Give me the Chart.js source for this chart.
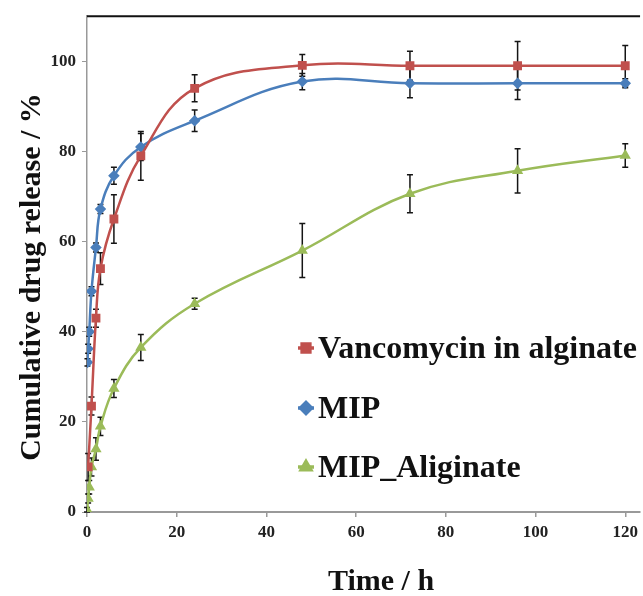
<!DOCTYPE html>
<html><head><meta charset="utf-8">
<script src="https://cdn.jsdelivr.net/npm/chart.js@4.4.1/dist/chart.umd.min.js"></script>
<style>html,body{margin:0;padding:0;background:#fff;}#wrap{width:643px;height:596px;position:relative;}</style>
</head><body><div id="wrap"><canvas id="c" width="643" height="596"></canvas></div>
<script>
const xTitle = 'Time / h';
const yTitle = 'Cumulative drug release / %';
const xTicks = [0, 20, 40, 60, 80, 100, 120];
const yTicks = [0, 20, 40, 60, 80, 100];
const seriesNames = ['Vancomycin in alginate', 'MIP', 'MIP_Aliginate'];

const vancoTime = [0.25, 1, 2, 3, 6, 12, 24, 48, 72, 96, 120];
const vancoRelease = [10, 23.5, 43, 54, 65, 79, 94, 99.1, 99, 99, 99];
const vancoErr = [3, 2, 2, 3.5, 5.4, 5.4, 3, 2.4, 3.2, 5.4, 4.5];

const mipTime = [0.1, 0.25, 0.5, 1, 2, 3, 6, 12, 24, 48, 72, 96, 120];
const mipRelease = [33.2, 36.2, 40, 49, 58.7, 67.2, 74.6, 81, 86.8, 95.5, 95.1, 95.1, 95.1];
const mipErr = [0.8, 1, 1, 1, 1, 1, 1.9, 3, 2.4, 1.8, 3.2, 3.6, 1];

const algTime = [0, 0.25, 0.5, 1, 2, 3, 6, 12, 24, 48, 72, 96, 120];
const algRelease = [0.5, 3, 5.5, 10, 14, 19, 27.4, 36.5, 46.2, 58, 70.6, 75.7, 79.1];
const algErr = [0.5, 1, 1.5, 2, 2.5, 2, 2, 2.9, 1.2, 6, 4.2, 4.9, 2.6];

const colors = ['#c0504d', '#4a7ebb', '#9bbb59'];
const styles = ['rect', 'rectRot', 'triangle'];

function pts(t, v) { return t.map((x, i) => ({ x: x, y: v[i] })); }

const seriesData = [
  { t: vancoTime, v: vancoRelease, e: vancoErr },
  { t: mipTime, v: mipRelease, e: mipErr },
  { t: algTime, v: algRelease, e: algErr }
];

const datasets = seriesData.map((s, k) => ({
  label: seriesNames[k],
  data: pts(s.t, s.v),
  errors: s.e,
  borderColor: colors[k],
  backgroundColor: colors[k],
  pointBackgroundColor: colors[k],
  pointBorderColor: colors[k],
  pointStyle: styles[k],
  pointRadius: k === 0 ? 4.5 : 4,
  borderWidth: 2.5,
  tension: 0.4,
  fill: false
}));

const SERIF = "'Liberation Serif', 'Times New Roman', serif";

const errPlugin = {
  id: 'errbars',
  beforeDatasetsDraw(chart) {
    const ctx = chart.ctx, xs = chart.scales.x, ys = chart.scales.y;
    ctx.save();
    ctx.strokeStyle = '#151515';
    ctx.lineWidth = 1.5;
    chart.data.datasets.forEach(ds => {
      ds.data.forEach((p, i) => {
        const e = ds.errors[i];
        if (!e) return;
        const x = xs.getPixelForValue(p.x);
        const y1 = ys.getPixelForValue(p.y + e), y2 = ys.getPixelForValue(p.y - e);
        ctx.beginPath();
        ctx.moveTo(x, y1); ctx.lineTo(x, y2);
        ctx.moveTo(x - 3, y1); ctx.lineTo(x + 3, y1);
        ctx.moveTo(x - 3, y2); ctx.lineTo(x + 3, y2);
        ctx.stroke();
      });
    });
    ctx.restore();
  }
};

const decoPlugin = {
  id: 'deco',
  afterDraw(chart) {
    const ctx = chart.ctx, a = chart.chartArea;
    ctx.save();
    // top frame line
    ctx.strokeStyle = '#111';
    ctx.lineWidth = 2;
    ctx.beginPath();
    ctx.moveTo(a.left, a.top); ctx.lineTo(a.right, a.top);
    ctx.stroke();
    // axis titles
    ctx.fillStyle = '#111';
    ctx.font = 'bold 30px ' + SERIF;
    ctx.textAlign = 'center';
    ctx.textBaseline = 'alphabetic';
    ctx.fillText(xTitle, 381, 590);
    ctx.save();
    ctx.translate(40, 277);
    ctx.rotate(-Math.PI / 2);
    ctx.fillText(yTitle, 0, 0);
    ctx.restore();
    // legend
    const rows = [358, 418, 477];
    ctx.font = 'bold 32px ' + SERIF;
    ctx.textAlign = 'left';
    chart.data.datasets.forEach((ds, k) => {
      const cy = rows[k] - 10, cx = 306;
      ctx.strokeStyle = ds.borderColor;
      ctx.fillStyle = ds.borderColor;
      ctx.lineWidth = 3.5;
      ctx.beginPath(); ctx.moveTo(cx - 8, cy); ctx.lineTo(cx + 8, cy); ctx.stroke();
      Chart.helpers.drawPoint(ctx, { pointStyle: ds.pointStyle, radius: 5.5, borderWidth: 1 }, cx, cy);
      ctx.fillStyle = '#111';
      ctx.fillText(ds.label, 318, rows[k]);
    });
    ctx.restore();
  }
};

const tickFont = { family: SERIF, size: 17, weight: 'bold' };

new Chart(document.getElementById('c'), {
  type: 'line',
  data: { datasets: datasets },
  options: {
    responsive: false,
    animation: false,
    devicePixelRatio: 1,
    layout: { padding: { top: 14, left: 0, right: 0, bottom: 0 }, autoPadding: false },
    plugins: { legend: { display: false }, tooltip: { enabled: false } },
    scales: {
      x: {
        type: 'linear', min: 0, max: 123.3,
        afterBuildTicks: s => { s.ticks = xTicks.map(v => ({ value: v })); },
        afterFit: s => { s.height = 84; },
        grid: { drawOnChartArea: false, drawTicks: true, tickLength: 5, color: '#999', lineWidth: 1.5 },
        border: { display: true, color: '#999', width: 2 },
        ticks: { font: tickFont, color: '#222', padding: 5, maxRotation: 0 }
      },
      y: {
        min: 0, max: 110,
        afterBuildTicks: s => { s.ticks = yTicks.map(v => ({ value: v })); },
        afterFit: s => { s.width = 87; },
        grid: { drawOnChartArea: false, drawTicks: true, tickLength: 5, color: '#999', lineWidth: 1 },
        border: { display: true, color: '#999', width: 1.5 },
        ticks: { font: tickFont, color: '#222', padding: 6 }
      }
    }
  },
  plugins: [errPlugin, decoPlugin]
});
</script></body></html>
